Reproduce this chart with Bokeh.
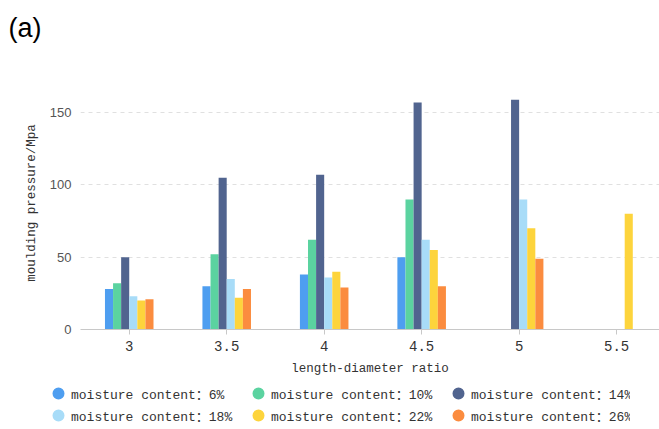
import math

from bokeh.embed import file_html
from bokeh.layouts import column
from bokeh.models import (ColumnDataSource, FixedTicker, Label, Legend,
                          LegendItem, Range1d)
from bokeh.plotting import figure
from bokeh.resources import INLINE

# length-diameter ratios (x categories)
ratios = ["3", "3.5", "4", "4.5", "5", "5.5"]

# moulding pressure (MPa) per moisture content; NaN = no bar
nan = math.nan
mc_6 = [28, 30, 38, 50, nan, nan]
mc_10 = [32, 52, 62, 90, nan, nan]
mc_14 = [50, 105, 107, 157, 159, nan]
mc_18 = [23, 35, 36, 62, 90, nan]
mc_22 = [20, 22, 40, 55, 70, 80]
mc_26 = [21, 28, 29, 30, 49, nan]

series_names = ["moisture content：6%", "moisture content：10%", "moisture content：14%",
                "moisture content：18%", "moisture content：22%", "moisture content：26%"]
series_values = [mc_6, mc_10, mc_14, mc_18, mc_22, mc_26]
colors = ["#4e9ef0", "#5bd3a0", "#51648f", "#a8dcf8", "#fdd43c", "#fb8c3f"]

MONO = "Liberation Mono"
MONO_CJK = "'Liberation Mono', 'Noto Sans CJK SC'"
W = 659
LEFT = 80           # left border of the chart frame
HEAD_H = 50         # strip holding the panel tag
CHART_H = 329
LEGEND_H = 50
LEGEND_SHIFT = 29   # legend strip starts left of the chart frame


def strip(height, shift):
    """Axis-less band whose frame starts `shift` px left of the chart frame."""
    f = figure(width=W + shift, height=height, output_backend="svg",
               toolbar_location=None, x_range=Range1d(0, 1), y_range=Range1d(0, 1),
               x_axis_type=None, y_axis_type=None, min_border=0,
               outline_line_color=None, background_fill_color="white",
               border_fill_color="white", margin=(0, 0, 0, -shift))
    f.grid.visible = False
    return f


# panel tag above the chart
head = strip(HEAD_H, LEFT)
head.add_layout(Label(x=8, y=HEAD_H - 27, x_units="screen", y_units="screen",
                      text="(a)", text_font="Liberation Sans", text_font_size="27px",
                      text_color="black", text_baseline="middle"))

p = figure(width=W, height=CHART_H, output_backend="svg", toolbar_location=None,
           x_range=Range1d(-0.5, 5.44), y_range=Range1d(0, 175),
           min_border_left=LEFT, min_border_right=0, min_border_top=26,
           min_border_bottom=50, outline_line_color=None,
           background_fill_color="white", border_fill_color="white")

positions = list(range(len(ratios)))
bar_w = 0.083
n = len(series_values)
for k, (vals, col) in enumerate(zip(series_values, colors)):
    off = (k - (n - 1) / 2) * bar_w
    src = ColumnDataSource(dict(x=[i + off for i in positions], top=vals))
    p.vbar(x="x", top="top", bottom=0, width=bar_w, source=src,
           fill_color=col, line_color=None)

# x axis
xa = p.xaxis[0]
xa.ticker = FixedTicker(ticks=positions)
xa.major_label_overrides = {i: r for i, r in zip(positions, ratios)}
xa.axis_label = "length-diameter ratio"
xa.axis_label_text_font = MONO
xa.axis_label_text_font_size = "12.5px"
xa.axis_label_text_font_style = "normal"
xa.axis_label_text_color = "#333333"
xa.axis_label_standoff = 8
xa.major_label_text_font = MONO
xa.major_label_text_font_size = "14px"
xa.major_label_text_color = "#333333"
xa.major_label_standoff = 6
xa.axis_line_color = "#c8c8c8"
xa.major_tick_line_color = "#c8c8c8"
xa.major_tick_out = 5
xa.major_tick_in = 0
xa.minor_tick_line_color = None

# y axis
ya = p.yaxis[0]
ya.ticker = FixedTicker(ticks=[0, 50, 100, 150])
ya.axis_label = "moulding pressure/Mpa"
ya.axis_label_text_font = MONO
ya.axis_label_text_font_size = "12.5px"
ya.axis_label_text_font_style = "normal"
ya.axis_label_text_color = "#333333"
ya.axis_label_standoff = 8
ya.major_label_text_font = "Liberation Sans"
ya.major_label_text_font_size = "13px"
ya.major_label_text_color = "#555555"
ya.major_label_standoff = 9
ya.axis_line_color = None
ya.major_tick_line_color = None
ya.major_tick_out = 0
ya.major_tick_in = 0
ya.minor_tick_line_color = None

p.xgrid.grid_line_color = None
p.ygrid.grid_line_color = "#e0e0e0"
p.ygrid.grid_line_dash = "4 4"

# legend strip under the chart
lg = strip(LEGEND_H, LEGEND_SHIFT)
legend_items = []
for name, col in zip(series_names, colors):
    # legend-only swatch: a single undrawable point
    dot = lg.scatter(x=[nan], y=[nan], marker="circle", fill_color=col,
                     line_color=col, line_width=6.4)
    legend_items.append(LegendItem(label=name, renderers=[dot]))

legend = Legend(items=legend_items, orientation="horizontal", ncols=3,
                location=(0, 4), glyph_width=14, glyph_height=20,
                label_height=20, label_width=178, label_standoff=6, spacing=2,
                padding=0, margin=0, border_line_color=None,
                background_fill_alpha=0, label_text_font=MONO_CJK,
                label_text_font_size="13px", label_text_color="#333333")
lg.add_layout(legend, "center")

open("out.html", "w").write(file_html(column(head, p, lg), INLINE))
